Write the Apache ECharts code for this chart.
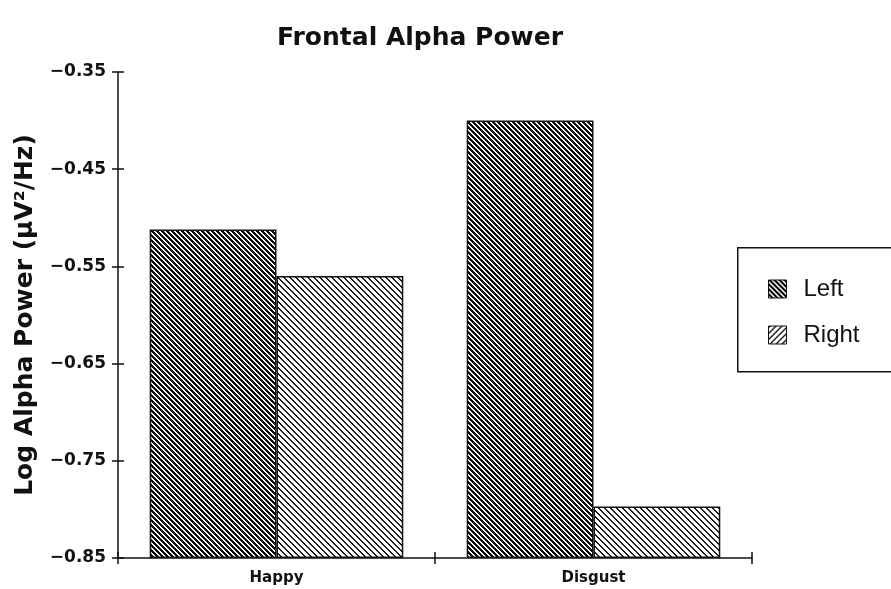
<!DOCTYPE html>
<html>
<head>
<meta charset="utf-8">
<script src="https://cdn.jsdelivr.net/npm/echarts@6/dist/echarts.min.js"></script>
<style>html,body{margin:0;padding:0;background:#fff;}#c{width:891px;height:589px;}</style>
</head>
<body>
<div id="c"></div>
<script>
const categories = ['Happy', 'Disgust'];
const leftValues = [-0.512, -0.400];
const rightValues = [-0.560, -0.797];
const axisMin = -0.85;
const axisMax = -0.35;
const axisStep = 0.1;

function makePattern(period, thick, dir, ink) {
  const c = document.createElement('canvas');
  c.width = period; c.height = period;
  const ctx = c.getContext('2d');
  const img = ctx.createImageData(period, period);
  for (let y = 0; y < period; y++) {
    for (let x = 0; x < period; x++) {
      const d = dir === 'back' ? (x - y) : (x + y);
      const m = ((d % period) + period) % period;
      const on = m < thick;
      const i = (y * period + x) * 4;
      const v = on ? ink : 255;
      img.data[i] = v; img.data[i + 1] = v; img.data[i + 2] = v; img.data[i + 3] = 255;
    }
  }
  ctx.putImageData(img, 0, 0);
  return { image: c, repeat: 'repeat' };
}
const darkPat = makePattern(5, 3, 'back', 10);
const lightPat = makePattern(6, 2, 'back', 30);
const lightLegendPat = makePattern(6, 2, 'fwd', 30);

const fmt = v => (v + axisMin).toFixed(2).replace('-', '\u2212');
const shift = arr => arr.map(v => +(v - axisMin).toFixed(4));

const chart = echarts.init(document.getElementById('c'), null, { renderer: 'canvas' });
chart.setOption({
  backgroundColor: '#ffffff',
  animation: false,
  title: {
    text: 'Frontal Alpha Power',
    left: 415, top: 21, textAlign: 'center',
    textStyle: { fontFamily: 'DejaVu Sans', fontSize: 25, fontWeight: 'bold', color: '#111' }
  },
  grid: { left: 118, right: 139, top: 72, bottom: 31, containLabel: false },
  graphic: [{
    type: 'rect', left: 737, top: 247, z: 0,
    shape: { width: 200, height: 124 },
    style: { fill: '#fff', stroke: '#111', lineWidth: 1.5 }
  }],
  legend: {
    orient: 'vertical', left: 763, top: 272,
    itemWidth: 18, itemHeight: 18, itemGap: 22,
    icon: 'rect',
    itemStyle: { borderColor: '#111', borderWidth: 1 },
    textStyle: { fontFamily: 'Liberation Sans', fontSize: 24, color: '#111', padding: [0, 0, 0, 12] },
    data: [
      { name: 'Left', itemStyle: { color: darkPat } },
      { name: 'Right', itemStyle: { color: lightLegendPat } }
    ],
    z: 5
  },
  xAxis: [{
    type: 'category', data: categories, boundaryGap: true,
    axisLine: { lineStyle: { color: '#111', width: 1.5 } },
    axisTick: { show: true, length: 6, alignWithLabel: false, lineStyle: { color: '#111', width: 1.5 } },
    axisLabel: { margin: 13, fontFamily: 'DejaVu Sans', fontSize: 15, fontWeight: 'bold', color: '#111' }
  }, {
    type: 'category', data: categories, boundaryGap: true, position: 'bottom',
    axisLine: { show: false },
    axisTick: { show: true, inside: true, length: 6, lineStyle: { color: '#111', width: 1.5 } },
    axisLabel: { show: false }
  }],
  yAxis: [{
    type: 'value', min: 0, max: axisMax - axisMin, interval: axisStep,
    name: 'Log Alpha Power (\u03BCV\u00B2/Hz)', nameLocation: 'middle', nameGap: 80, nameRotate: 90,
    nameTextStyle: { fontFamily: 'DejaVu Sans', fontSize: 25, fontWeight: 'bold', color: '#111' },
    axisLine: { show: true, lineStyle: { color: '#111', width: 1.5 } },
    axisTick: { show: true, length: 6, lineStyle: { color: '#111', width: 1.5 } },
    axisLabel: { formatter: fmt, margin: 12, fontFamily: 'DejaVu Sans', fontSize: 17, fontWeight: 'bold', color: '#111' },
    splitLine: { show: false }
  }, {
    type: 'value', min: 0, max: axisMax - axisMin, interval: axisStep, position: 'left',
    axisLine: { show: false },
    axisTick: { show: true, inside: true, length: 6, lineStyle: { color: '#111', width: 1.5 } },
    axisLabel: { show: false },
    splitLine: { show: false }
  }],
  series: [{
    name: 'Left', type: 'bar', data: shift(leftValues),
    barGap: '0%', barCategoryGap: '20%',
    itemStyle: { color: darkPat, borderColor: '#111', borderWidth: 1.5 }
  }, {
    name: 'Right', type: 'bar', data: shift(rightValues),
    barGap: '0%', barCategoryGap: '20%',
    itemStyle: { color: lightPat, borderColor: '#111', borderWidth: 1.5 }
  }]
});
</script>
</body>
</html>
